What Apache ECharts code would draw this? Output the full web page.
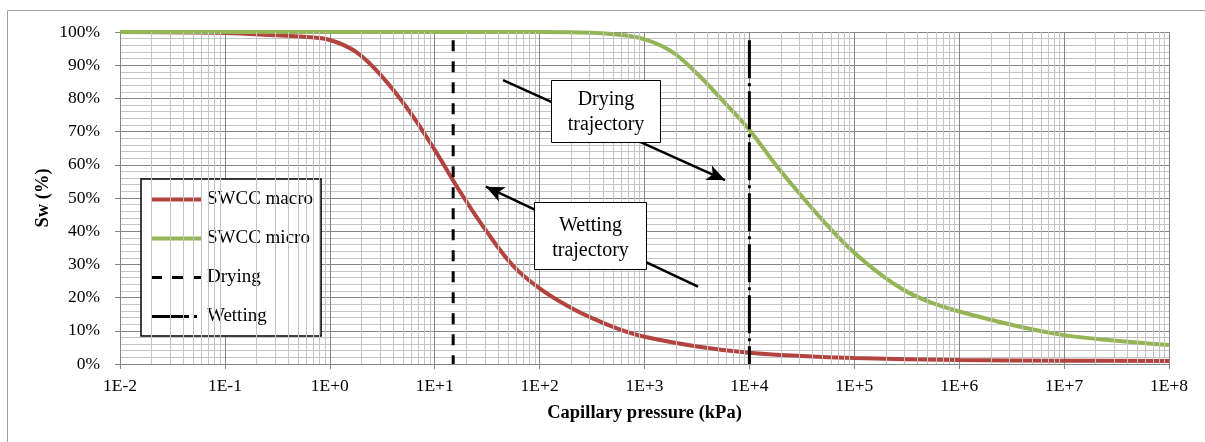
<!DOCTYPE html>
<html>
<head>
<meta charset="utf-8">
<script src="https://cdn.jsdelivr.net/npm/echarts@6/dist/echarts.min.js"></script>
<style>
html,body{margin:0;padding:0;background:#fff;}
#chart{width:1205px;height:442px;}
</style>
</head>
<body>
<div id="chart"></div>
<script>
// ---- data ----
const macroP  = [0.01, 0.1, 0.316, 0.562, 1, 1.778, 3.162, 5.623, 10, 17.78, 31.62, 56.23, 100, 177.8, 316.2, 562.3, 1000, 3162, 10000, 31623, 100000, 1e6, 1e7, 1e8];
const macroSw = [100, 99.7, 99.0, 98.6, 97.6, 94.0, 86.5, 76.5, 64.5, 51.5, 39.7, 29.5, 22.8, 17.8, 13.8, 10.6, 8.2, 5.3, 3.4, 2.4, 1.8, 1.2, 1.0, 0.9];
const microP  = [0.01, 1, 100, 316.2, 562.3, 1000, 1778, 3162, 5623, 10000, 17783, 31623, 56234, 100000, 177828, 316228, 562341, 1e6, 3.162e6, 1e7, 3.162e7, 1e8];
const microSw = [100, 100, 100, 99.8, 99.2, 97.8, 94.3, 87.5, 79.2, 70.5, 60.0, 50.5, 41.5, 33.5, 27.0, 21.8, 18.3, 15.8, 11.8, 8.7, 7.0, 5.7];
const dryingLine  = [[15, 97.5], [15, 0]];
const wettingLine = [[10000, 97.5], [10000, 0]];
const dryingArrow  = [[44.8, 85.5], [5850, 55.4]];
const wettingArrow = [[3236, 23.3], [30.8, 53.4]];
const seriesNames = ['SWCC macro', 'SWCC micro', 'Drying', 'Wetting'];
const xTickLabels = ['1E-2','1E-1','1E+0','1E+1','1E+2','1E+3','1E+4','1E+5','1E+6','1E+7','1E+8'];
const xTickExps = [-2,-1,0,1,2,3,4,5,6,7,8];
const yTickLabels = ['0%','10%','20%','30%','40%','50%','60%','70%','80%','90%','100%'];
const minorMultipliers = [2,3,4,5,6,7,8,9];
const annotationTexts = ['Drying\ntrajectory', 'Wetting\ntrajectory'];

// ---- chart ----
const FONT = '"Liberation Serif", "Times New Roman", serif';
const minorXs = [];
xTickExps.slice(0, -1).forEach(e => minorMultipliers.forEach(m => minorXs.push(m * Math.pow(10, e))));

const chart = echarts.init(document.getElementById('chart'), null, {renderer: 'canvas'});
const pair = (xs, ys) => xs.map((x, i) => [x, ys[i]]);
const RED = '#B3433F', GREEN = '#93B556';

chart.setOption({
  animation: false,
  backgroundColor: '#fff',
  grid: {left: 120, right: 36, top: 32, bottom: 78, containLabel: false},
  xAxis: {
    type: 'log', logBase: 10, min: 0.01, max: 1e8, interval: 1, splitNumber: 10,
    name: 'Capillary pressure (kPa)', nameLocation: 'middle', nameGap: 40,
    nameTextStyle: {fontFamily: FONT, fontSize: 18.5, fontWeight: 'bold', color: '#000'},
    axisLine: {show: true, lineStyle: {color: '#868686', width: 1}},
    axisTick: {show: true, inside: false, length: 5, lineStyle: {color: '#868686'}},
    axisLabel: {
      fontFamily: FONT, fontSize: 17.5, color: '#000', margin: 13, hideOverlap: false,
      showMinLabel: true, showMaxLabel: true,
      formatter: v => {
        const e = Math.round(Math.log10(v));
        const idx = xTickExps.indexOf(e);
        return idx >= 0 ? xTickLabels[idx] : '';
      }
    },
    splitLine: {show: true, lineStyle: {color: '#868686', width: 1}},
    minorTick: {show: false},
    minorSplitLine: {show: false}
  },
  yAxis: {
    type: 'value', min: 0, max: 100, interval: 10,
    name: 'Sw (%)', nameLocation: 'middle', nameGap: 67, nameMoveOverlap: false,
    nameTextStyle: {fontFamily: FONT, fontSize: 18.5, fontWeight: 'bold', color: '#000'},
    axisLine: {show: true, lineStyle: {color: '#868686', width: 1}},
    axisTick: {show: true, inside: false, length: 5, lineStyle: {color: '#868686'}},
    axisLabel: {
      fontFamily: FONT, fontSize: 17.5, color: '#000', margin: 20,
      formatter: v => yTickLabels[Math.round(v / 10)]
    },
    splitLine: {show: true, lineStyle: {color: '#868686', width: 1}},
    minorTick: {show: false, splitNumber: 5},
    minorSplitLine: {show: true, lineStyle: {color: '#c4c4c4', width: 1}}
  },
  legend: {
    data: seriesNames,
    orient: 'vertical',
    left: 141, top: 179,
    padding: [11, 8, 10, 8],
    itemWidth: 51, itemHeight: 14, itemGap: 20,
    backgroundColor: '#fff',
    borderColor: '#000', borderWidth: 1.5,
    itemStyle: {opacity: 0},
    lineStyle: {width: 'inherit'},
    textStyle: {fontFamily: FONT, fontSize: 19, color: '#000'},
    selectedMode: false
  },
  series: [
    {
      type: 'line', name: '__grid', data: [], z: 1, silent: true,
      markLine: {
        silent: true, animation: false, symbol: ['none', 'none'],
        label: {show: false},
        lineStyle: {color: '#c4c4c4', width: 1, type: 'solid'},
        emphasis: {disabled: true},
        data: minorXs.map(v => ({xAxis: v}))
      }
    },
    {
      type: 'line', name: '__arrows', data: [], z: 3, silent: true,
      markLine: {
        silent: true, animation: false, symbol: ['none', 'arrow'], symbolSize: [12, 18],
        label: {show: false},
        lineStyle: {color: '#000', width: 2.5, type: 'solid'},
        emphasis: {disabled: true},
        data: [
          [{coord: dryingArrow[0]}, {coord: dryingArrow[1]}],
          [{coord: wettingArrow[0]}, {coord: wettingArrow[1]}]
        ]
      }
    },
    {
      type: 'line', name: seriesNames[0], data: pair(macroP, macroSw),
      smooth: 0.4, symbol: 'none', z: 4,
      lineStyle: {color: RED, width: 4}, itemStyle: {color: RED}
    },
    {
      type: 'line', name: seriesNames[1], data: pair(microP, microSw),
      smooth: 0.4, symbol: 'none', z: 4,
      lineStyle: {color: GREEN, width: 4}, itemStyle: {color: GREEN}
    },
    {
      type: 'line', name: seriesNames[2], data: dryingLine,
      symbol: 'none', z: 5,
      lineStyle: {color: '#000', width: 3, type: [11, 10]}, itemStyle: {color: '#000'}
    },
    {
      type: 'line', name: seriesNames[3], data: wettingLine,
      symbol: 'none', z: 5,
      lineStyle: {color: '#000', width: 3, type: [38, 5, 3, 5]}, itemStyle: {color: '#000'}
    }
  ],
  graphic: [
    {type: 'rect', z: -10, silent: true, shape: {x: 7.5, y: 10.5, width: 1210, height: 450},
     style: {fill: 'none', stroke: '#a0a0a0', lineWidth: 1}},
    {type: 'rect', z: 100, silent: true, shape: {x: 551.5, y: 80.5, width: 109, height: 62},
     style: {fill: '#fff', stroke: '#000', lineWidth: 1}},
    {type: 'text', z: 101, silent: true, x: 606, y: 112,
     style: {text: annotationTexts[0], font: '20px ' + FONT, textAlign: 'center', textVerticalAlign: 'middle', lineHeight: 25, fill: '#000'}},
    {type: 'rect', z: 100, silent: true, shape: {x: 534.5, y: 202.5, width: 112, height: 67},
     style: {fill: '#fff', stroke: '#000', lineWidth: 1}},
    {type: 'text', z: 101, silent: true, x: 590.5, y: 238,
     style: {text: annotationTexts[1], font: '20px ' + FONT, textAlign: 'center', textVerticalAlign: 'middle', lineHeight: 25, fill: '#000'}}
  ]
});
</script>
</body>
</html>
